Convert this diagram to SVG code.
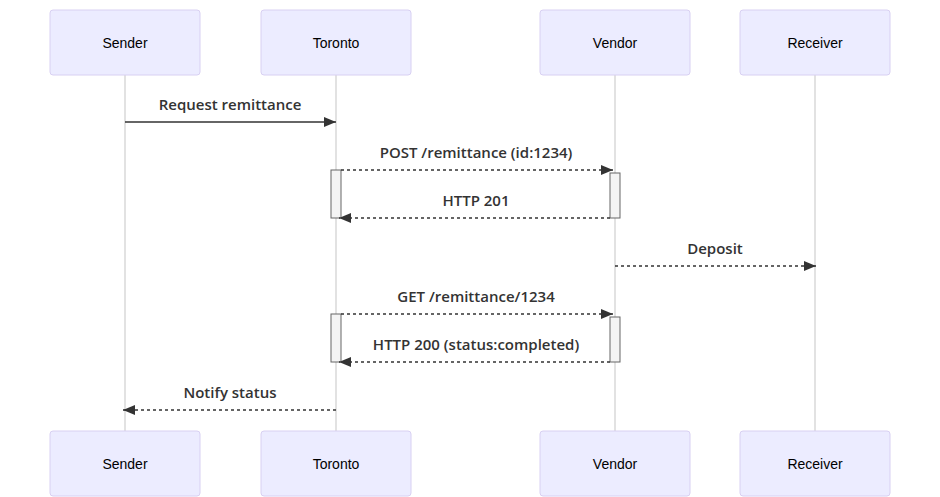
<svg xmlns="http://www.w3.org/2000/svg" width="940" height="497" viewBox="0 0 940 497">
<style>
.actor{fill:#ECECFF;stroke:#D8D0F2;stroke-width:1}
.atext{font-family:"Liberation Sans",Arial,sans-serif;font-size:14px;fill:#000;text-anchor:middle;dominant-baseline:central}
.life{stroke:#D9D9D9;stroke-width:1.5}
.msg{stroke:#333;stroke-width:1.5;fill:none}
.dash{stroke-dasharray:3,3}
.mtext{font-family:"Open Sans","DejaVu Sans",sans-serif;font-size:15px;font-weight:600;fill:#333;text-anchor:middle}
.act{fill:#F4F4F4;stroke:#666;stroke-width:1}
</style>
<defs>
<marker id="ah" viewBox="0 0 12 10" refX="12" refY="5" markerWidth="12" markerHeight="10" markerUnits="userSpaceOnUse" orient="auto">
<path d="M0,0 L12,5 L0,10 z" fill="#333"/>
</marker>
</defs>
<rect width="940" height="497" fill="#fff"/>
<g id="lifelines">
<line class="life" x1="125" y1="75" x2="125" y2="431"/>
<line class="life" x1="336" y1="75" x2="336" y2="431"/>
<line class="life" x1="615" y1="75" x2="615" y2="431"/>
<line class="life" x1="815" y1="75" x2="815" y2="431"/>
</g>
<g id="sender-top"><rect class="actor" x="50" y="10" width="150" height="65" rx="3"/><text class="atext" x="125" y="43">Sender</text></g>
<g id="toronto-top"><rect class="actor" x="261" y="10" width="150" height="65" rx="3"/><text class="atext" x="336" y="43">Toronto</text></g>
<g id="vendor-top"><rect class="actor" x="540" y="10" width="150" height="65" rx="3"/><text class="atext" x="615" y="43">Vendor</text></g>
<g id="receiver-top"><rect class="actor" x="740" y="10" width="150" height="65" rx="3"/><text class="atext" x="815" y="43">Receiver</text></g>
<g id="sender-bottom"><rect class="actor" x="50" y="431" width="150" height="65" rx="3"/><text class="atext" x="125" y="464">Sender</text></g>
<g id="toronto-bottom"><rect class="actor" x="261" y="431" width="150" height="65" rx="3"/><text class="atext" x="336" y="464">Toronto</text></g>
<g id="vendor-bottom"><rect class="actor" x="540" y="431" width="150" height="65" rx="3"/><text class="atext" x="615" y="464">Vendor</text></g>
<g id="receiver-bottom"><rect class="actor" x="740" y="431" width="150" height="65" rx="3"/><text class="atext" x="815" y="464">Receiver</text></g>
<g id="activations">
<rect class="act" x="331" y="170" width="10" height="48"/>
<rect class="act" x="610" y="173" width="10" height="45"/>
<rect class="act" x="331" y="314" width="10" height="48"/>
<rect class="act" x="610" y="317" width="10" height="45"/>
</g>
<g id="connectors">
<line class="msg" x1="125" y1="122" x2="336" y2="122" marker-end="url(#ah)"/>
<line class="msg dash" x1="341" y1="170" x2="613" y2="170" marker-end="url(#ah)"/>
<line class="msg dash" x1="610" y1="218" x2="339" y2="218" marker-end="url(#ah)"/>
<line class="msg dash" x1="615" y1="266" x2="816" y2="266" marker-end="url(#ah)"/>
<line class="msg dash" x1="341" y1="314" x2="613" y2="314" marker-end="url(#ah)"/>
<line class="msg dash" x1="610" y1="362" x2="339" y2="362" marker-end="url(#ah)"/>
<line class="msg dash" x1="336" y1="410" x2="123" y2="410" marker-end="url(#ah)"/>
</g>
<g id="labels">
<text class="mtext" x="230" y="110">Request remittance</text>
<text class="mtext" x="476" y="158">POST /remittance (id:1234)</text>
<text class="mtext" x="476" y="206">HTTP 201</text>
<text class="mtext" x="715" y="254">Deposit</text>
<text class="mtext" x="476" y="302">GET /remittance/1234</text>
<text class="mtext" x="476" y="350">HTTP 200 (status:completed)</text>
<text class="mtext" x="230" y="398">Notify status</text>
</g>
</svg>
